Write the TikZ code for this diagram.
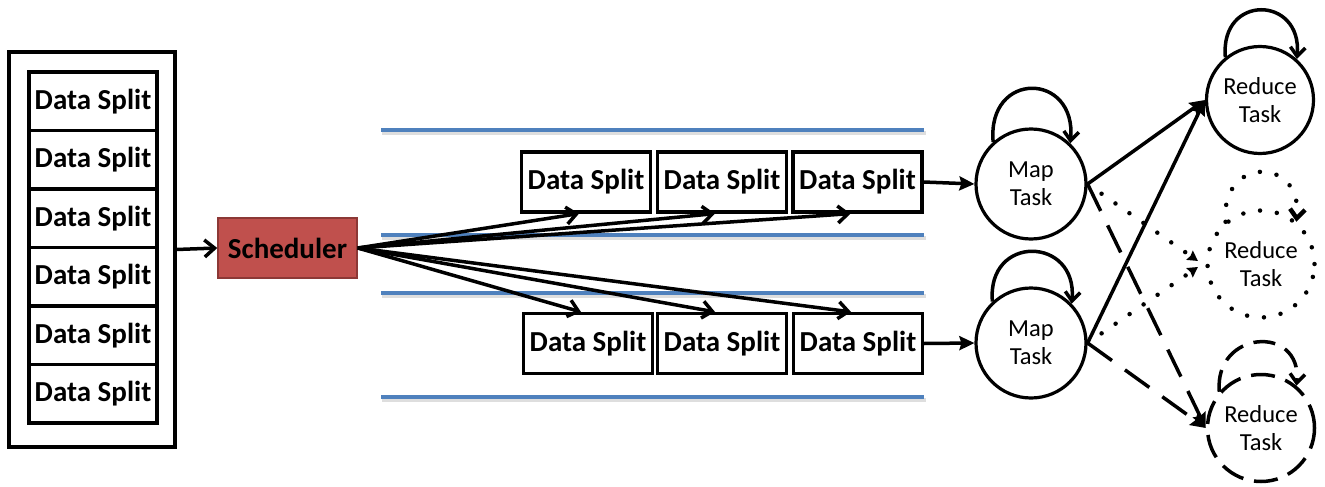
\documentclass[tikz,border=0pt]{standalone}
\usepackage{fontspec}
\setmainfont{Carlito}
\usetikzlibrary{arrows.meta}
\definecolor{schedfill}{HTML}{C0504D}
\definecolor{schedline}{HTML}{8C3836}
\definecolor{laneblue}{HTML}{4F81BD}
\begin{document}
\begin{tikzpicture}[x=1pt,y=1pt,
  split/.style={draw, line width=3.2pt, fill=white, minimum width=128pt, minimum height=58.5pt, inner sep=0pt, font=\fontsize{29}{30}\selectfont\bfseries},
  task/.style={circle, draw, line width=3.2pt, minimum size=110pt, inner sep=0pt, align=center, font=\fontsize{24.5}{28}\selectfont},
  dottedline/.style={line width=4.5pt, line cap=round, dash pattern=on 0pt off 17pt},
  dashedline/.style={line width=3.5pt, dash pattern=on 30pt off 16pt},
  lane/.style={laneblue, line width=4pt},
  laneshadow/.style={black!13, line width=4pt},
  conn/.style={line width=3.5pt},
  openhead/.style={-{Straight Barb[length=10pt,width=17pt]}},
  loophead/.style={-{Straight Barb[length=9pt,width=15pt]}},
  filledhead/.style={-{Stealth[length=15pt,width=14pt,inset=2pt]}},
  smallhead/.style={-{Stealth[length=10pt,width=11pt,inset=1pt]}}
]
\fill[white] (0,0) rectangle (1325,-487);
\useasboundingbox (0,0) rectangle (1325,-487);

% lanes
\foreach \y in {130,235,293,397}{
  \draw[laneshadow] (382,-\y-2.5) -- (926,-\y-2.5);
  \draw[lane] (381,-\y) -- (924,-\y);
}

% input store
\node[draw, line width=3.2pt, minimum width=166pt, minimum height=395pt] (store) at (92,-249.5) {};
\node[split] (s1) at (93,-101.25) {Data Split};
\node[split] (s2) at (93,-159.75) {Data Split};
\node[split] (s3) at (93,-218.25) {Data Split};
\node[split] (s4) at (93,-276.75) {Data Split};
\node[split] (s5) at (93,-335.25) {Data Split};
\node[split] (s6) at (93,-393.75) {Data Split};

% scheduler
\node[draw=schedline, fill=schedfill, line width=1.5pt, minimum width=139pt, minimum height=60pt, inner sep=0pt,
      font=\fontsize{29}{30}\selectfont\bfseries] (sched) at (287.5,-248) {Scheduler};
\draw[conn, openhead] (store.east) -- (sched.west);

% split rows
\node[split, minimum width=129pt, minimum height=60pt] (t1) at (586,-182) {Data Split};
\node[split, minimum width=129pt, minimum height=60pt] (t2) at (722,-182) {Data Split};
\node[split, minimum width=129pt, minimum height=60pt] (t3) at (857.5,-182) {Data Split};
\node[split, minimum width=129pt, minimum height=60pt] (b1) at (588,-343.5) {Data Split};
\node[split, minimum width=129pt, minimum height=60pt] (b2) at (722,-343.5) {Data Split};
\node[split, minimum width=129pt, minimum height=60pt] (b3) at (858,-343.5) {Data Split};

\foreach \n in {t1,t2,t3}{\draw[conn, openhead] (sched.east) -- ([xshift=-7pt]\n.south);}
\foreach \n in {b1,b2,b3}{\draw[conn, openhead] (sched.east) -- ([xshift=-7pt]\n.north);}

% tasks
\node[task] (m1) at (1031,-184) {Map\\Task};
\node[task] (m2) at (1031,-343) {Map\\Task};
\node[task, minimum size=107pt] (r1) at (1260,-100) {Reduce\\Task};
\node[task, minimum size=107pt, draw=none] (r2) at (1261,-264) {Reduce\\Task};
\draw[dottedline] (r2.center) circle (53.5pt);
\node[task, minimum size=107pt, dashedline, dash pattern=on 24pt off 11pt] (r3) at (1261,-428) {Reduce\\Task};

\draw[conn, filledhead] (t3.east) -- (m1.west);
\draw[conn, filledhead] (b3.east) -- (m2.west);

% self loops
\draw[conn, loophead] (m1.132) .. controls +(95:72) and +(85:72) .. (m1.46);
\draw[conn, loophead] (m2.133) .. controls +(95:68) and +(85:68) .. (m2.44);
\draw[conn, loophead] (r1.129) .. controls +(95:64) and +(85:64) .. (r1.48);
\draw[dottedline, loophead] (r2.130) .. controls +(95:66) and +(85:66) .. (r2.50);
\draw[dashedline, dash pattern=on 22pt off 11pt, loophead] (r3.139) .. controls +(95:62) and +(85:62) .. (r3.50);

% map -> reduce
\draw[conn, filledhead] (m1.east) -- (r1.west);
\draw[conn, filledhead] (m2.east) -- (r1.west);
\draw[dottedline, smallhead] (m1.east) -- ([xshift=-8pt,yshift=3pt]r2.west);
\draw[dottedline, smallhead] (m2.east) -- ([xshift=-8pt,yshift=-3pt]r2.west);
\draw[dashedline, filledhead] (m1.east) -- (r3.west);
\draw[dashedline, filledhead] (m2.east) -- (r3.west);
\end{tikzpicture}
\end{document}
